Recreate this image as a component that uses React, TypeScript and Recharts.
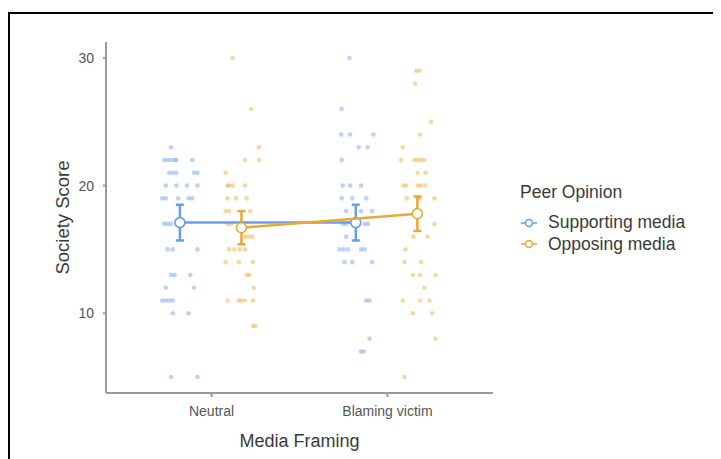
import React from 'react';
import {
    ScatterChart, Scatter, XAxis, YAxis, ErrorBar, Legend, Label
} from 'recharts';

const categories = ['Neutral', 'Blaming victim'];
const groups = ['Supporting media', 'Opposing media'];
const yTicks = [10, 20, 30];

// raw scores, [jittered x, score]
const supportingNeutral: [number, number][] = [
    [0.77, 23],
    [0.73, 22], [0.75, 22], [0.77, 22], [0.79, 22], [0.8, 22], [0.89, 22],
    [0.76, 21], [0.78, 21], [0.8, 21], [0.9, 21], [0.92, 21],
    [0.74, 20], [0.8, 20], [0.86, 20], [0.92, 20],
    [0.72, 19], [0.74, 19], [0.81, 19], [0.87, 19], [0.89, 19],
    [0.73, 17], [0.75, 17], [0.77, 17],
    [0.75, 15], [0.78, 15], [0.92, 15],
    [0.77, 13], [0.79, 13], [0.88, 13],
    [0.74, 12], [0.9, 12],
    [0.72, 11], [0.74, 11], [0.76, 11], [0.78, 11],
    [0.78, 10], [0.87, 10],
    [0.77, 5], [0.92, 5],
];
const supportingBlaming: [number, number][] = [
    [1.784, 30],
    [1.74, 26],
    [1.737, 24], [1.788, 24], [1.92, 24],
    [1.837, 23], [1.888, 23],
    [1.74, 22],
    [1.746, 20], [1.788, 20], [1.85, 20],
    [1.74, 19], [1.8, 19], [1.879, 19],
    [1.765, 18], [1.85, 18], [1.913, 18],
    [1.746, 17], [1.765, 17], [1.87, 17], [1.89, 17],
    [1.765, 16],
    [1.727, 15], [1.75, 15], [1.775, 15], [1.85, 15], [1.87, 15],
    [1.756, 14], [1.8, 14], [1.913, 14],
    [1.879, 11], [1.898, 11],
    [1.898, 8],
    [1.85, 7], [1.865, 7],
];
const opposingNeutral: [number, number][] = [
    [1.12, 30],
    [1.225, 26],
    [1.27, 23],
    [1.19, 22], [1.27, 22],
    [1.08, 21],
    [1.09, 20], [1.1, 20], [1.12, 20], [1.19, 20],
    [1.09, 19], [1.14, 19], [1.2, 19],
    [1.08, 18], [1.1, 18], [1.22, 18],
    [1.09, 17], [1.11, 17],
    [1.19, 16], [1.21, 16], [1.23, 16],
    [1.1, 15], [1.13, 15], [1.16, 15], [1.19, 15],
    [1.08, 14], [1.155, 14], [1.235, 14],
    [1.2, 13], [1.215, 13],
    [1.24, 12],
    [1.09, 11], [1.155, 11], [1.17, 11], [1.19, 11], [1.235, 11],
    [1.235, 9], [1.25, 9],
];
const opposingBlaming: [number, number][] = [
    [2.163, 29], [2.182, 29],
    [2.157, 28],
    [2.248, 25],
    [2.186, 24],
    [2.087, 23],
    [2.078, 22], [2.153, 22], [2.172, 22], [2.19, 22], [2.21, 22],
    [2.172, 21], [2.216, 21],
    [2.091, 20], [2.106, 20], [2.172, 20], [2.19, 20], [2.216, 20],
    [2.11, 19], [2.172, 19], [2.186, 19], [2.267, 19],
    [2.267, 17],
    [2.148, 16], [2.229, 16],
    [2.102, 15],
    [2.097, 14], [2.191, 14],
    [2.144, 13], [2.186, 13], [2.273, 13],
    [2.21, 12],
    [2.087, 11], [2.186, 11], [2.239, 11],
    [2.144, 10], [2.254, 10],
    [2.273, 8],
    [2.097, 5],
];

const supportingMeans = [17.1, 17.1];
const supportingSE = [1.4, 1.4];
const opposingMeans = [16.7, 17.8];
const opposingSE = [1.3, 1.35];
const dodge = [-0.18, 0.17];

const COLORS = ['#6b9bed', '#e8aa35'];
const FONT = '"Liberation Sans", Arial, sans-serif';

const toPoints = (rows: [number, number][]) => rows.map(([x, y]) => ({ x, y }));
const meanRows = (means: number[], se: number[], off: number) =>
    means.map((m, i) => ({ x: i + 1 + off, y: m, err: se[i] }));

const rawSupporting = [...toPoints(supportingNeutral), ...toPoints(supportingBlaming)];
const rawOpposing = [...toPoints(opposingNeutral), ...toPoints(opposingBlaming)];
const meanSupporting = meanRows(supportingMeans, supportingSE, dodge[0]);
const meanOpposing = meanRows(opposingMeans, opposingSE, dodge[1]);

const dot = (color: string) => (props: any) => (
    <circle cx={props.cx} cy={props.cy} r={2.3} fill={color} fillOpacity={0.45} />
);
const meanDot = (color: string) => (props: any) => (
    <circle cx={props.cx} cy={props.cy} r={5} fill="#fff" stroke={color} strokeWidth={1.6} />
);

const LegendBox = () => (
    <div style={{ fontFamily: FONT, color: '#3a3a3a' }}>
        <div style={{ fontSize: 17.5, lineHeight: '26px', marginBottom: 7 }}>Peer Opinion</div>
        {groups.map((g, i) => (
            <div key={g} style={{ display: 'flex', alignItems: 'center', fontSize: 17.5, lineHeight: '21.5px' }}>
                <svg width={18} height={12} style={{ marginRight: 10 }}>
                    <line x1={1} y1={6} x2={17} y2={6} stroke={COLORS[i]} strokeWidth={1.5} />
                    <circle cx={9} cy={6} r={3.5} fill="#fff" stroke={COLORS[i]} strokeWidth={1.5} />
                </svg>
                {g}
            </div>
        ))}
    </div>
);

export default function App() {
    return (
        <div style={{ paddingTop: 4 }}>
            <div style={{
                position: 'relative', width: 711, height: 445,
                borderTop: '2px solid #000', borderLeft: '2px solid #000', background: '#fff'
            }}>
                <ScatterChart width={711} height={445} margin={{ top: 28, right: 228, bottom: 0, left: 36 }}>
                    <XAxis
                        type="number" dataKey="x" domain={[0.4, 2.6]} ticks={[1, 2]}
                        allowDataOverflow
                        tickFormatter={(v: number) => categories[v - 1]}
                        height={66} tickSize={4} tickMargin={9}
                        stroke="#9a9a9a" strokeWidth={2}
                        tick={{ fill: '#555', fontSize: 14, fontFamily: FONT }}
                    >
                        <Label value="Media Framing" position="center" dy={15}
                            style={{ fill: '#3a3a3a', fontSize: 18, fontFamily: FONT }} />
                    </XAxis>
                    <YAxis
                        type="number" dataKey="y" domain={[3.75, 31.25]} ticks={yTicks}
                        allowDataOverflow
                        width={60} tickSize={3} tickMargin={9}
                        stroke="#9a9a9a" strokeWidth={2}
                        tick={{ fill: '#555', fontSize: 14, fontFamily: FONT }}
                    >
                        <Label value="Society Score" angle={-90} position="center" dx={-14}
                            style={{ fill: '#3a3a3a', fontSize: 18.5, fontFamily: FONT, textAnchor: 'middle' }} />
                    </YAxis>
                    <Legend
                        layout="horizontal" align="center" verticalAlign="middle"
                        wrapperStyle={{ left: 510, top: 165, width: 200 }}
                        content={<LegendBox />}
                    />
                    <Scatter data={rawSupporting} shape={dot(COLORS[0])} isAnimationActive={false} legendType="none" />
                    <Scatter data={rawOpposing} shape={dot(COLORS[1])} isAnimationActive={false} legendType="none" />
                    <Scatter
                        name={groups[0]} data={meanSupporting} shape={meanDot(COLORS[0])}
                        line={{ stroke: COLORS[0], strokeWidth: 2.5 }} isAnimationActive={false}
                    >
                        <ErrorBar dataKey="err" direction="y" width={4} stroke={COLORS[0]} strokeWidth={2.5} isAnimationActive={false} />
                    </Scatter>
                    <Scatter
                        name={groups[1]} data={meanOpposing} shape={meanDot(COLORS[1])}
                        line={{ stroke: COLORS[1], strokeWidth: 2.5 }} isAnimationActive={false}
                    >
                        <ErrorBar dataKey="err" direction="y" width={4} stroke={COLORS[1]} strokeWidth={2.5} isAnimationActive={false} />
                    </Scatter>
                </ScatterChart>
            </div>
        </div>
    );
}
